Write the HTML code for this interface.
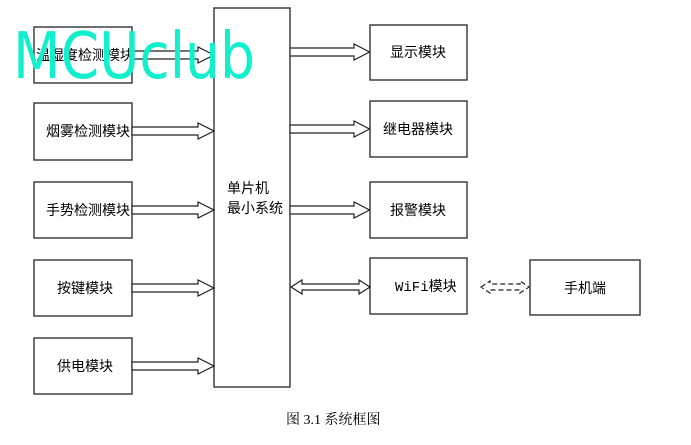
<!DOCTYPE html>
<html><head><meta charset="utf-8"><style>
body{margin:0;background:#fff;width:691px;height:445px;overflow:hidden}
svg{display:block}
text{font-family:"Liberation Sans","Noto Sans CJK SC",sans-serif;font-size:14px;fill:#000}
</style></head><body>
<svg width="691" height="445" viewBox="0 0 691 445">
<defs>
<g id="ar"><polygon points="0,-4 66,-4 66,-8 82,0 66,8 66,4 0,4" fill="#fff" stroke="#222" stroke-width="1.2"/></g>
</defs>
<g fill="#fff" stroke="#333" stroke-width="1.4">
<rect x="34" y="27" width="98" height="56"/>
<rect x="34" y="103" width="98" height="57"/>
<rect x="34" y="182" width="98" height="56"/>
<rect x="34" y="260" width="98" height="56"/>
<rect x="34" y="338" width="98" height="56"/>
<rect x="214" y="8" width="76" height="379"/>
<rect x="370" y="25" width="97" height="55"/>
<rect x="370" y="101" width="97" height="56"/>
<rect x="370" y="182" width="97" height="56"/>
<rect x="370" y="258" width="97" height="56"/>
<rect x="530" y="260" width="110" height="55"/>
</g>
<use href="#ar" transform="translate(132,55)"/>
<use href="#ar" transform="translate(132,131)"/>
<use href="#ar" transform="translate(132,210)"/>
<use href="#ar" transform="translate(132,288)"/>
<use href="#ar" transform="translate(132,366)"/>
<use href="#ar" transform="translate(290,52) scale(0.97,1)"/>
<use href="#ar" transform="translate(290,129) scale(0.97,1)"/>
<use href="#ar" transform="translate(290,210) scale(0.97,1)"/>
<polygon points="291,287 302,280 302,284 359,284 359,280 370,287 359,294 359,290 302,290 302,294" fill="#fff" stroke="#222" stroke-width="1.2"/>
<polygon points="481,287 490,281 490,284 520,284 520,281 529,287 520,293 520,290 490,290 490,293" fill="none" stroke="#222" stroke-width="1.2" stroke-dasharray="5,3"/>
<text x="36" y="60">温湿度检测模块</text>
<text x="46" y="136">烟雾检测模块</text>
<text x="46" y="215">手势检测模块</text>
<text x="57" y="293">按键模块</text>
<text x="57" y="371">供电模块</text>
<text x="227" y="193">单片机</text>
<text x="227" y="213">最小系统</text>
<text x="390" y="57">显示模块</text>
<text x="383" y="134">继电器模块</text>
<text x="390" y="215">报警模块</text>
<text x="395" y="291" style="font-family:'Liberation Mono','Noto Sans CJK SC',monospace">WiFi模块</text>
<text x="564" y="293">手机端</text>
<text x="286" y="424" style="font-family:'Liberation Serif','Noto Serif CJK SC',serif">图 3.1  系统框图</text>
<text x="13" y="78" textLength="242" lengthAdjust="spacingAndGlyphs" style="font-family:'DejaVu Sans',sans-serif;font-size:64px;fill:#10f0cc">MCUclub</text>
</svg>
</body></html>
